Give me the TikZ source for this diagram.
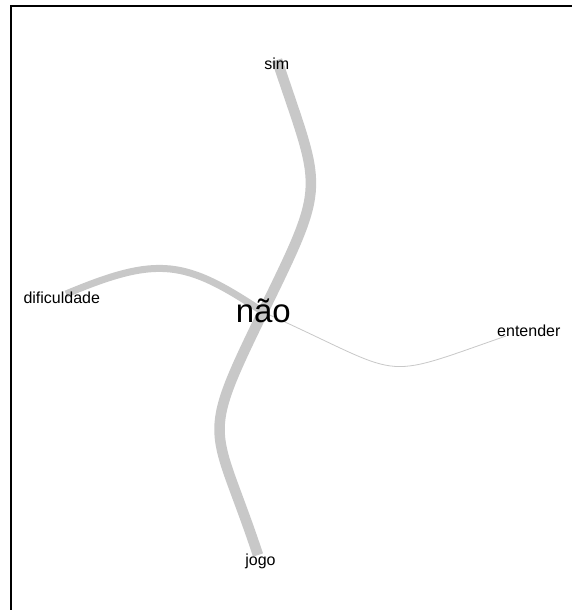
\documentclass[tikz,border=0pt]{standalone}
\usepackage{fontspec}
\setmainfont{Liberation Sans}
\definecolor{edgegray}{HTML}{C8C8C8}
\tikzset{
  edgeline/.style={draw=edgegray, line cap=butt},
  lbl/.style={inner sep=0pt, anchor=base, font=\fontsize{16}{16}\selectfont},
  biglbl/.style={inner sep=0pt, anchor=base, font=\fontsize{33}{33}\selectfont},
  frameline/.style={draw=black, line width=2pt}
}
\begin{document}
\begin{tikzpicture}[x=1pt, y=-1pt]
\useasboundingbox (0,0) rectangle (572,610);
\fill[white] (0,0) rectangle (572,610);
% frame (only top and left visible)
\coordinate (fA) at (11,612);
\coordinate (fB) at (11,6);
\coordinate (fC) at (574,6);
\draw[frameline] (fA) -- (fB) -- (fC);
% vertex points
\coordinate (vNao) at (263,312);
\coordinate (vSim) at (277,60);
\coordinate (vJogo) at (258,555);
\coordinate (vDif) at (66,294);
\coordinate (vEnt) at (506,336);
% edges
\draw[edgeline, line width=10.5pt] (vNao) .. controls (328,179) and (321,193) .. (vSim);
\draw[edgeline, line width=10.5pt] (vNao) .. controls (198,445) and (214,422) .. (vJogo);
\draw[edgeline, line width=7pt] (vNao) .. controls (185,260) and (158.6,255.2) .. (vDif);
\draw[edgeline, line width=0.8pt] (vNao) .. controls (409.7,377.8) and (374,381.9) .. (vEnt);
% labels
\node[lbl] (sim) at (276.7,69.3) {sim};
\node[lbl] (dificuldade) at (61.8,303.3) {dificuldade};
\node[lbl] (entender) at (528.8,336.7) {entender};
\node[lbl] (jogo) at (260.5,565) {jogo};
\node[biglbl] (nao) at (263.3,322.7) {não};
\end{tikzpicture}
\end{document}
